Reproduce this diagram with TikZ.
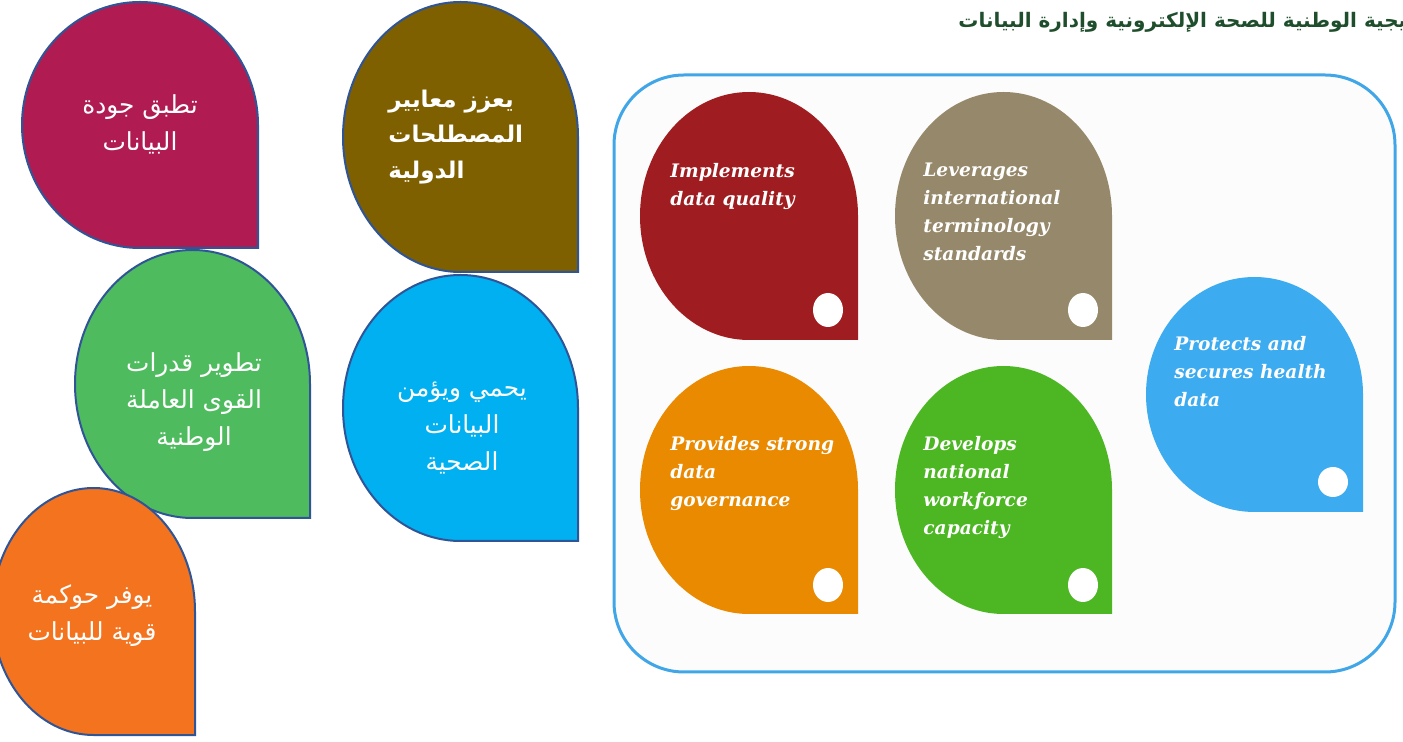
\documentclass[tikz,border=0pt]{standalone}
\usepackage{fontspec}
\TeXXeTstate=1
\newfontfamily\arabicfont[Script=Arabic]{DejaVu Sans}
\newfontfamily\dropserif{DejaVu Serif}
\newcommand\artxt[1]{\beginR #1\endR}

% Drop shape: three quarter-ellipse corners, square lower-right corner.
% Arguments: style, left, top, right, bottom (y grows downwards)
\newcommand\drawdrop[5]{%
  \pgfmathsetmacro\dcx{(#2+#4)/2}%
  \pgfmathsetmacro\dcy{(#3+#5)/2}%
  \pgfmathsetmacro\drx{(#4-#2)*0.27614}%
  \pgfmathsetmacro\dry{(#5-#3)*0.27614}%
  \path[#1] (#4,#5) -- (\dcx,#5)
    .. controls (\dcx-\drx,#5) and (#2,\dcy+\dry) .. (#2,\dcy)
    .. controls (#2,\dcy-\dry) and (\dcx-\drx,#3) .. (\dcx,#3)
    .. controls (\dcx+\drx,#3) and (#4,\dcy-\dry) .. (#4,\dcy) -- cycle;%
}

\definecolor{outlineblue}{HTML}{2F5597}
\definecolor{panelblue}{HTML}{41A6E8}
\definecolor{cMagenta}{HTML}{B01C52}
\definecolor{cOlive}{HTML}{7F6000}
\definecolor{cLeaf}{HTML}{4FBB5F}
\definecolor{cCyan}{HTML}{00B0F0}
\definecolor{cTangerine}{HTML}{F4731F}
\definecolor{cRed}{HTML}{9F1D20}
\definecolor{cTaupe}{HTML}{96896B}
\definecolor{cAmber}{HTML}{E98A00}
\definecolor{cGrass}{HTML}{4CB723}
\definecolor{cSky}{HTML}{3DABF0}
\definecolor{titlegreen}{HTML}{1F4E2C}

\begin{document}
\begin{tikzpicture}[x=0.5pt,y=-0.5pt,
  leftdrop/.style={draw=outlineblue,line width=1pt},
  artext/.style={font=\arabicfont\fontsize{12.4}{18.5}\selectfont,text=white,inner sep=0pt,align=center},
  arbold/.style={font=\arabicfont\bfseries\fontsize{11.5}{17.75}\selectfont,text=white,inner sep=0pt,align=left},
  entext/.style={font=\dropserif\bfseries\itshape\fontsize{9.3}{14}\selectfont,text=white,inner sep=0pt,align=left,anchor=north west},
  dot/.style={fill=white}]
\useasboundingbox (0,0) rectangle (1403,742);
\clip (0,0) rectangle (1403,742);

% title line
\node[font=\arabicfont\bfseries\fontsize{10}{12}\selectfont,text=titlegreen,anchor=west,inner sep=0pt]
  (title) at (958,22) {\artxt{الاستراتيجية الوطنية للصحة الإلكترونية وإدارة البيانات}};

% Arabic drops
\drawdrop{leftdrop,fill=cMagenta}{22}{2}{258}{248}
\drawdrop{leftdrop,fill=cOlive}{343}{2}{578}{272}
\drawdrop{leftdrop,fill=cLeaf}{75}{250}{310}{518}
\drawdrop{leftdrop,fill=cCyan}{343}{275}{578}{541}
\drawdrop{leftdrop,fill=cTangerine}{-8}{488}{195}{735}

\node[artext] (a1) at (140,124) {\artxt{تطبق جودة}\\\artxt{البيانات}};
\node[arbold,anchor=west] (a2) at (388,137) {\artxt{يعزز معايير}\\\artxt{المصطلحات}\\\artxt{الدولية}};
\node[artext] (a3) at (194,402) {\artxt{تطوير قدرات}\\\artxt{القوى العاملة}\\\artxt{الوطنية}};
\node[artext] (a4) at (462,428) {\artxt{يحمي ويؤمن}\\\artxt{البيانات}\\\artxt{الصحية}};
\node[artext] (a5) at (92,616) {\artxt{يوفر حوكمة}\\\artxt{قوية للبيانات}};

% English panel
\draw[line width=1.5pt,draw=panelblue,fill=black!1,rounded corners=35pt] (614,75) rectangle (1395,672);

\drawdrop{fill=cRed}{640}{92}{858}{340}
\drawdrop{fill=cTaupe}{895}{92}{1112}{340}
\drawdrop{fill=cAmber}{640}{366}{858}{614}
\drawdrop{fill=cGrass}{895}{366}{1112}{614}
\drawdrop{fill=cSky}{1146}{277}{1363}{512}

\fill[dot] (828,310) ellipse [x radius=15,y radius=17];
\fill[dot] (1083,310) ellipse [x radius=15,y radius=17];
\fill[dot] (828,585) ellipse [x radius=15,y radius=17];
\fill[dot] (1083,585) ellipse [x radius=15,y radius=17];
\fill[dot] (1333,482) ellipse [x radius=15,y radius=15];

\node[entext] (e1) at (670,163) {Implements\\data quality};
\node[entext] (e2) at (923,163) {Leverages\\international\\terminology\\standards};
\node[entext] (e3) at (670,436) {Provides strong\\data\\governance};
\node[entext] (e4) at (923,436) {Develops\\national\\workforce\\capacity};
\node[entext] (e5) at (1174,336) {Protects and\\secures health\\data};
\end{tikzpicture}
\end{document}
